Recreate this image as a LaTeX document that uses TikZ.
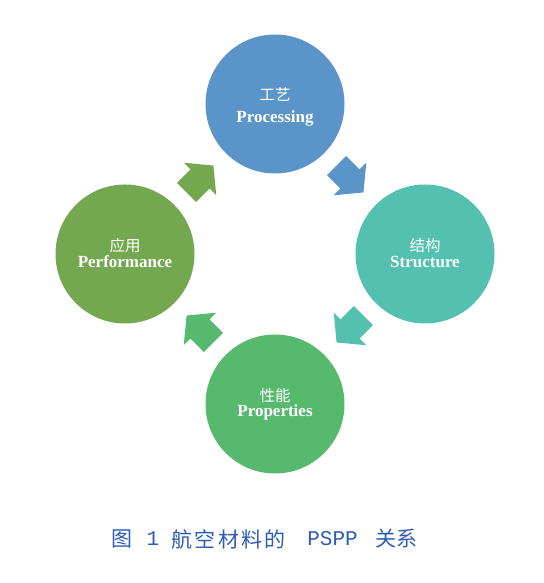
\documentclass[tikz,border=0pt]{standalone}
\usepackage{fontspec}
\setmainfont{Liberation Serif}
\newfontfamily\cjk{Noto Sans CJK SC}
\newfontfamily\capmono{Liberation Mono}
\definecolor{cblue}{RGB}{91,148,201}
\definecolor{cteal}{RGB}{84,192,175}
\definecolor{cgreen}{RGB}{86,185,110}
\definecolor{colive}{RGB}{116,168,80}
\definecolor{capblue}{RGB}{45,92,180}
\tikzset{
  blockarrow/.pic={\fill[pic actions] (-19,13.5) -- (0,13.5) -- (0,23) -- (19,0) -- (0,-23) -- (0,-13.5) -- (-19,-13.5) -- cycle;},
  ball/.style={circle, minimum size=139pt, inner sep=0pt, fill=#1},
  zh/.style={text=white, font=\cjk\fontsize{15.5}{15.5}\selectfont},
  en/.style={text=white, font=\bfseries\fontsize{17}{17}\selectfont, anchor=base},
  capzh/.style={text=capblue, font=\cjk\fontsize{21}{21}\selectfont, inner sep=0pt},
  capen/.style={text=capblue, font=\capmono\fontsize{21}{21}\selectfont, inner sep=0pt},
}
\begin{document}
\begin{tikzpicture}[x=1pt,y=1pt]
\useasboundingbox (0,0) rectangle (543,583);
% circles
\node[ball=cblue]  (top)    at (275,479) {};
\node[ball=cteal]  (right)  at (425,329) {};
\node[ball=cgreen] (bottom) at (275,179) {};
\node[ball=colive] (left)   at (125,329) {};
% labels
\node[zh] (topzh) at ([yshift=10pt]top.center) {工艺};
\node[en] (topen) at ([yshift=-19pt]top.center) {Processing};
\node[zh] (rightzh) at ([yshift=8pt]right.center) {结构};
\node[en] (righten) at ([yshift=-14pt]right.center) {Structure};
\node[zh] (bottomzh) at ([yshift=8pt]bottom.center) {性能};
\node[en] (bottomen) at ([yshift=-13pt]bottom.center) {Properties};
\node[zh] (leftzh) at ([yshift=8pt]left.center) {应用};
\node[en] (leften) at ([yshift=-14pt]left.center) {Performance};
% arrows
\pic[fill=cblue, rotate=-45] (a1) at (350,404) {blockarrow};
\pic[fill=cteal, rotate=-135] (a2) at (350,254) {blockarrow};
\pic[fill=cgreen, rotate=135] (a3) at (200,254) {blockarrow};
\pic[fill=colive, rotate=45] (a4) at (200,404) {blockarrow};
% caption
\node[capzh] (c1) at (122,44) {图};
\node[capen] (c2) at (153,44) {1};
\node[capzh] (c3) at (228.5,44) {航\hspace{2.3pt}空\hspace{2.3pt}材\hspace{2.3pt}料\hspace{2.3pt}的};
\node[capen] (c4) at (332.5,44) {PSPP};
\node[capzh] (c5) at (396.5,44) {关系};
\end{tikzpicture}
\end{document}
